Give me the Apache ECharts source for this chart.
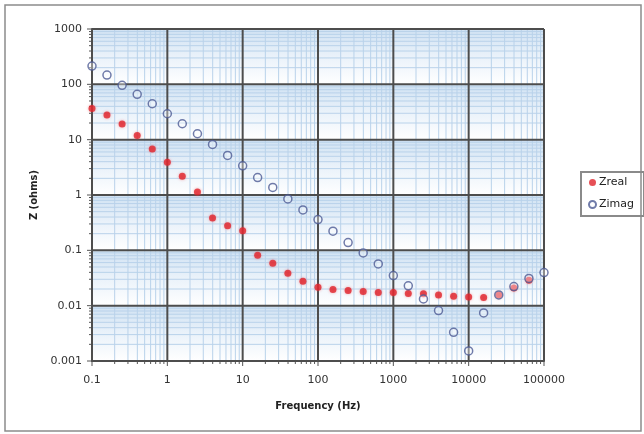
<!DOCTYPE html>
<html>
<head>
<meta charset="utf-8">
<script src="https://cdn.jsdelivr.net/npm/echarts@6/dist/echarts.min.js"></script>
<style>
  html, body { margin: 0; padding: 0; background: #ffffff; }
  #chart { width: 644px; height: 434px; }
</style>
</head>
<body>
<div id="chart"></div>
<script>
// Impedance sweep: five frequencies per decade
const frequency = [
  0.1, 0.158, 0.251, 0.398, 0.631,
  1, 1.58, 2.51, 3.98, 6.31,
  10, 15.8, 25.1, 39.8, 63.1,
  100, 158, 251, 398, 631,
  1000, 1580, 2510, 3980, 6310,
  10000, 15800, 25100, 39800, 63100,
  100000
];

// Real part of Z (ohms); no reading at the top frequency
const zReal = [
  36.7, 27.8, 19.1, 11.9, 6.8,
  3.9, 2.19, 1.13, 0.386, 0.277,
  0.226, 0.0817, 0.0585, 0.0385, 0.0276,
  0.0215, 0.0195, 0.0187, 0.018, 0.0173,
  0.0173, 0.0166, 0.0164, 0.0156, 0.0148,
  0.0144, 0.014, 0.0156, 0.0209, 0.0288,
  null
];

// Imaginary part of Z (ohms), magnitude
const zImag = [
  214, 147, 96, 66, 44.6,
  29.4, 19.4, 12.8, 8.2, 5.2,
  3.37, 2.07, 1.37, 0.85, 0.538,
  0.36, 0.222, 0.138, 0.0897, 0.0568,
  0.035, 0.0228, 0.0132, 0.00815, 0.0033,
  0.00152, 0.0074, 0.0156, 0.0221, 0.031,
  0.0397
];

const xTickLabels = ['0.1', '1', '10', '100', '1000', '10000', '100000'];
const yTickLabels = ['0.001', '0.01', '0.1', '1', '10', '100', '1000'];
const minorSteps = [2, 3, 4, 5, 6, 7, 8, 9];

const xMajor = xTickLabels.map(Number);
const yMajor = yTickLabels.map(Number);
const xMin = xMajor[0], xMax = xMajor[xMajor.length - 1];
const yMin = yMajor[0], yMax = yMajor[yMajor.length - 1];

function minorsOf(majors) {
  const out = [];
  for (let i = 0; i < majors.length - 1; i++) {
    minorSteps.forEach(m => out.push(+(majors[i] * m).toPrecision(6)));
  }
  return out;
}
const xMinor = minorsOf(xMajor);
const yMinor = minorsOf(yMajor);

function labelFor(labels, v) {
  const base = Math.round(Math.log10(Number(labels[0])));
  const idx = Math.round(Math.log10(v)) - base;
  return labels[idx] !== undefined ? labels[idx] : '';
}

const FONT = 'DejaVu Sans';
const MINOR_COLOR = '#b9d2ea';
const MAJOR_COLOR = '#4d4d4d';
const TICK_COLOR = '#555555';

// Vertical grid line at a frequency, plus its tick under the axis
function vLine(isMajor) {
  return function (params, api) {
    const x = api.value(0);
    const a = api.coord([x, yMin]);
    const b = api.coord([x, yMax]);
    return {
      type: 'group',
      children: [
        { type: 'line', shape: { x1: a[0], y1: a[1], x2: b[0], y2: b[1] },
          style: { stroke: isMajor ? MAJOR_COLOR : MINOR_COLOR, lineWidth: isMajor ? 2 : 1 } },
        { type: 'line', shape: { x1: a[0], y1: a[1], x2: a[0], y2: a[1] + (isMajor ? 5 : 3) },
          style: { stroke: TICK_COLOR, lineWidth: 1 } }
      ]
    };
  };
}

// Horizontal grid line at an impedance level, plus its tick left of the axis
function hLine(isMajor) {
  return function (params, api) {
    const y = api.value(1);
    const a = api.coord([xMin, y]);
    const b = api.coord([xMax, y]);
    return {
      type: 'group',
      children: [
        { type: 'line', shape: { x1: a[0], y1: a[1], x2: b[0], y2: b[1] },
          style: { stroke: isMajor ? MAJOR_COLOR : MINOR_COLOR, lineWidth: isMajor ? 2 : 1 } },
        { type: 'line', shape: { x1: a[0] - (isMajor ? 5 : 3), y1: a[1], x2: a[0], y2: a[1] },
          style: { stroke: TICK_COLOR, lineWidth: 1 } }
      ]
    };
  };
}

// Each decade band fades from pale blue at its top to white
const bandFill = new echarts.graphic.LinearGradient(0, 0, 0, 1, [
  { offset: 0, color: '#d0e2f3' },
  { offset: 0.5, color: '#eaf2fa' },
  { offset: 1, color: '#ffffff' }
]);

const chart = echarts.init(document.getElementById('chart'), null, { renderer: 'canvas' });

chart.setOption({
  backgroundColor: '#ffffff',
  animation: false,
  graphic: [{
    type: 'rect',
    shape: { x: 5, y: 5, width: 636, height: 426 },
    style: { fill: 'none', stroke: '#8c8c8c', lineWidth: 1.5 },
    z: -10
  }],
  grid: { left: 92, right: 100, top: 29, bottom: 73, containLabel: false },
  legend: {
    orient: 'vertical',
    left: 581,
    top: 172,
    data: ['Zreal', 'Zimag'],
    itemWidth: 7,
    itemHeight: 7,
    itemGap: 11,
    padding: [5, 10, 6, 7],
    borderColor: '#8a8a8a',
    borderWidth: 2,
    textStyle: { fontFamily: FONT, fontSize: 11, color: '#222', padding: [0, 0, 0, -2] }
  },
  xAxis: {
    type: 'log',
    logBase: 10,
    min: xMin,
    max: xMax,
    name: 'Frequency (Hz)',
    nameLocation: 'middle',
    nameGap: 40,
    nameTextStyle: { fontFamily: FONT, fontSize: 10, fontWeight: 'bold', color: '#222' },
    axisLine: { show: true, lineStyle: { color: MAJOR_COLOR, width: 2 } },
    axisTick: { show: false },
    splitLine: { show: false },
    axisLabel: {
      margin: 14,
      fontFamily: FONT, fontSize: 11, color: '#333',
      formatter: v => labelFor(xTickLabels, v)
    }
  },
  yAxis: {
    type: 'log',
    logBase: 10,
    min: yMin,
    max: yMax,
    name: 'Z (ohms)',
    nameLocation: 'middle',
    nameRotate: 90,
    nameGap: 52,
    nameTextStyle: { fontFamily: FONT, fontSize: 10, fontWeight: 'bold', color: '#222' },
    axisLine: { show: true, lineStyle: { color: MAJOR_COLOR, width: 2 } },
    axisTick: { show: false },
    splitLine: { show: false },
    splitArea: { show: true, areaStyle: { color: [bandFill, bandFill] } },
    axisLabel: {
      margin: 10,
      fontFamily: FONT, fontSize: 11, color: '#333',
      formatter: v => labelFor(yTickLabels, v)
    }
  },
  series: [
    { type: 'custom', silent: true, z: 1, clip: false,
      data: xMinor.map(v => [v, yMin]), renderItem: vLine(false) },
    { type: 'custom', silent: true, z: 1, clip: false,
      data: yMinor.map(v => [xMin, v]), renderItem: hLine(false) },
    { type: 'custom', silent: true, z: 1, clip: false,
      data: xMajor.map(v => [v, yMin]), renderItem: vLine(true) },
    { type: 'custom', silent: true, z: 1, clip: false,
      data: yMajor.map(v => [xMin, v]), renderItem: hLine(true) },
    {
      name: 'Zreal',
      type: 'scatter',
      z: 3,
      clip: false,
      symbol: 'circle',
      symbolSize: 7,
      itemStyle: { color: '#e0242c', shadowBlur: 3, shadowColor: 'rgba(235,80,90,0.6)' },
      data: frequency.map((f, i) => zReal[i] == null ? null : [f, zReal[i]]).filter(d => d)
    },
    {
      name: 'Zimag',
      type: 'scatter',
      z: 4,
      clip: false,
      symbol: 'circle',
      symbolSize: 8,
      itemStyle: { color: 'rgba(255,255,255,0.45)', borderColor: '#4c5a94', borderWidth: 1.5 },
      data: frequency.map((f, i) => [f, zImag[i]])
    }
  ]
});
</script>
</body>
</html>
